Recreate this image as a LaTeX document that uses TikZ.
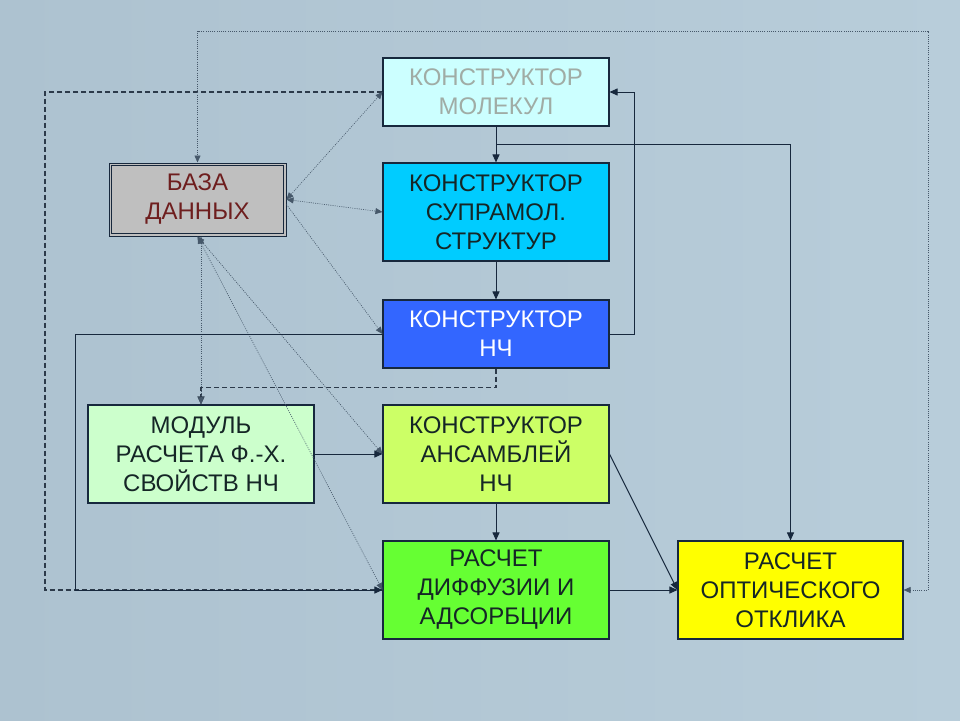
\documentclass[tikz,border=0pt]{standalone}
\usepackage{fontspec}
\setmainfont{Liberation Sans}
\usetikzlibrary{arrows.meta,calc}
\definecolor{bgA}{HTML}{ADC2D0}
\definecolor{bgB}{HTML}{C6DAE6}
\definecolor{bgC}{HTML}{B8CDDA}
\definecolor{lnc}{HTML}{17283D}
\definecolor{dotc}{HTML}{46586A}
\definecolor{txd}{HTML}{152626}
\tikzset{
  blk/.style={draw=lnc, line width=1.1pt, minimum width=226pt, align=center, inner sep=0pt,
    font=\fontsize{24}{29}\selectfont, text=txd},
  tall/.style={minimum height=98pt},
  short/.style={minimum height=68pt},
  conn/.style={draw=lnc, line width=1pt, -{Triangle[length=8pt,width=7pt]}},
  dashc/.style={draw=lnc!80!gray, line width=1.2pt, dash pattern=on 5pt off 3pt},
  dotl/.style={draw=dotc, line width=0.6pt, dash pattern=on 1pt off 1.2pt},
  dtip/.style={{Triangle[length=7pt,width=6pt]}-{Triangle[length=7pt,width=6pt]}},
  stip/.style={-{Triangle[length=7pt,width=6pt]}},
}
\begin{document}
\begin{tikzpicture}[x=1pt,y=-1pt]
\useasboundingbox (0,0) rectangle (960,720);
\shade[left color=bgA, middle color=bgB, right color=bgC] (0,0) rectangle (960,720);

\node[blk, short, fill={rgb,255:red,204;green,255;blue,255}, text={rgb,255:red,160;green,172;blue,165}] (mol) at (496,92) {КОНСТРУКТОР\\МОЛЕКУЛ};
\node[blk, minimum width=177pt, minimum height=73pt, fill=black!25, text={rgb,255:red,110;green,30;blue,30}, line width=1pt] (db) at (197.5,199.5) {БАЗА\\ДАННЫХ};
\draw[lnc, line width=0.9pt] ($(db.north west)+(3,3)$) rectangle ($(db.south east)+(-3,-3)$);
\node[blk, tall, fill={rgb,255:red,0;green,204;blue,255}] (sup) at (496,212) {КОНСТРУКТОР\\СУПРАМОЛ.\\СТРУКТУР};
\node[blk, short, fill={rgb,255:red,51;green,102;blue,255}, text=white] (nc) at (496,334) {КОНСТРУКТОР\\НЧ};
\node[blk, tall, fill={rgb,255:red,204;green,255;blue,204}] (mod) at (201,454) {МОДУЛЬ\\РАСЧЕТА Ф.-Х.\\СВОЙСТВ НЧ};
\node[blk, tall, fill={rgb,255:red,204;green,255;blue,102}] (ens) at (496,454) {КОНСТРУКТОР\\АНСАМБЛЕЙ\\НЧ};
\node[blk, tall, fill={rgb,255:red,102;green,255;blue,51}] (dif) at (496,590) {РАСЧЕТ\\ДИФФУЗИИ И\\АДСОРБЦИИ};
\node[blk, tall, minimum width=225pt, fill={rgb,255:red,255;green,255;blue,0}] (opt) at (790.5,590) {РАСЧЕТ\\ОПТИЧЕСКОГО\\ОТКЛИКА};

\coordinate (lx) at (75,0);
\coordinate (dx) at (45,0);
\coordinate (tp) at (928,31);
\coordinate (rx) at (634,0);
\coordinate (br) at ($(mol.south)!0.5!(sup.north)$);

% dashed connectors
\draw[dashc] (mol.west) -- (mol.west -| dx) |- (dif.west);
\draw[dashc, -{Triangle[length=8pt,width=7pt]}] (nc.south) -- ++(0,19) -| (mod.north);

% dotted connectors
\draw[dotl, dtip] (opt.east) -| (tp) -| (db.north);
\draw[dotl, dtip] (db.east) -- (mol.west);
\draw[dotl, dtip] (db.east) -- (sup.west);
\draw[dotl, stip] ([yshift=-5pt]db.east) -- (nc.west);
\draw[dotl, dtip] (db.south -| mod.north) -- (mod.north);
\draw[dotl, dtip] (db.south) -- (ens.west);
\draw[dotl, dtip] (db.south) -- (dif.west);

% solid connectors
\draw[conn] (mol.south) -- (sup.north);
\draw[conn] (sup.south) -- (nc.north);
\draw[conn] (ens.south) -- (dif.north);
\draw[conn] (mod.east) -- (ens.west);
\draw[conn] (dif.east) -- (opt.west);
\draw[conn] (ens.east) -- (opt.west);
\draw[conn] (nc.east) -- (nc.east -| rx) |- (mol.east);
\draw[conn] (br) -| (opt.north);
\draw[conn] (nc.west) -- (nc.west -| lx) |- (dif.west);
\end{tikzpicture}
\end{document}
